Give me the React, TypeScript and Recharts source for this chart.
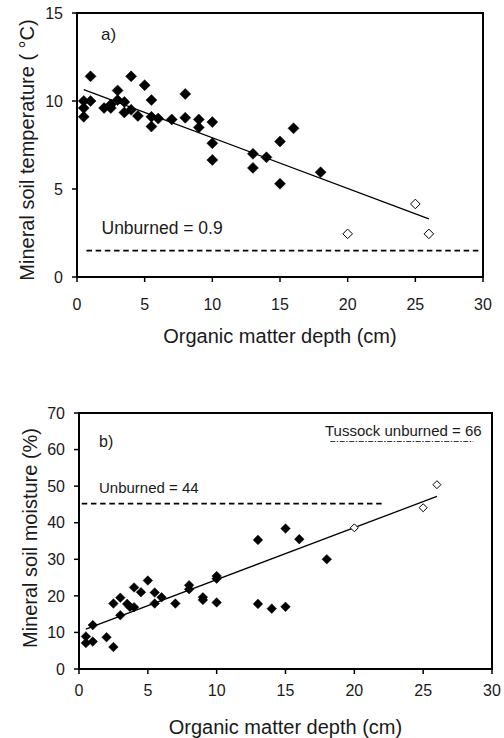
import React from "react";
import {
  ScatterChart,
  Scatter,
  XAxis,
  YAxis,
  ReferenceLine,
  ReferenceArea,
  Label,
} from "recharts";

const FONT = '"Liberation Sans", Arial, Helvetica, sans-serif';
const INK = "#1a1a1a";

// panel a) – mineral soil temperature vs organic matter depth
const depthA = [0.5, 0.5, 0.5, 1, 1, 2, 2.5, 2.5, 3, 3, 3.5, 3.5, 4, 4, 4.5, 5, 5.5, 5.5, 5.5, 6, 7, 8, 8, 9, 9, 10, 10, 10, 13, 13, 14, 15, 15, 16, 18];
const tempA = [10.0, 9.6, 9.1, 11.4, 10.0, 9.6, 9.6, 9.8, 10.6, 10.05, 9.95, 9.35, 11.4, 9.5, 9.15, 10.9, 10.05, 9.1, 8.55, 9.0, 8.95, 10.4, 9.05, 8.95, 8.5, 8.8, 7.6, 6.65, 7.0, 6.2, 6.8, 7.7, 5.3, 8.45, 5.95];
const openDepthA = [20, 25, 26];
const openTempA = [2.45, 4.15, 2.45];
const fitA = [{ x: 0.5, y: 10.65 }, { x: 26, y: 3.3 }];
const unburnedA = 1.5;

// panel b) – mineral soil moisture vs organic matter depth
const depthB = [0.5, 0.5, 1, 1, 2, 2.5, 2.5, 3, 3, 3.5, 3.7, 4, 4, 4.5, 5, 5.5, 5.5, 6, 7, 8, 8, 9, 9, 10, 10, 10, 13, 13, 14, 15, 15, 16, 18];
const moistB = [8.9, 7.1, 12, 7.5, 8.7, 6.0, 17.9, 19.5, 14.7, 17.8, 17.0, 22.3, 16.9, 21, 24.2, 20.9, 17.9, 19.6, 17.9, 22.9, 21.8, 19.6, 18.9, 25.4, 24.7, 18.2, 35.3, 17.8, 16.5, 38.4, 17.0, 35.5, 30.0];
const openDepthB = [20, 25, 26];
const openMoistB = [38.6, 44.1, 50.4];
const fitB = [{ x: 0.5, y: 10.9 }, { x: 26, y: 47.2 }];
const unburnedB = 45.2;
const tussockB = 62.2;

const xTicks = [0, 5, 10, 15, 20, 25, 30];
const yTicksA = [0, 5, 10, 15];
const yTicksB = [0, 10, 20, 30, 40, 50, 60, 70];

const pts = (xs: number[], ys: number[]) => xs.map((x, i) => ({ x, y: ys[i] }));

const diamond = (r: number, open: boolean) => (props: any) => {
  const { cx, cy } = props;
  if (cx == null || cy == null) return <g />;
  return (
    <path
      d={`M${cx},${cy - r}L${cx + r},${cy}L${cx},${cy + r}L${cx - r},${cy}Z`}
      fill={open ? "#fff" : "#000"}
      stroke="#000"
      strokeWidth={open ? 1 : 0.5}
    />
  );
};

const tickStyle = { fill: INK, fontSize: 16, fontFamily: FONT };
const axisLine = { stroke: "#000", strokeWidth: 2 };
const tickLine = { stroke: "#000", strokeWidth: 1.5 };

const yTitle = (text: string, dx: number, dy: number) => (props: any) => {
  const vb = props.viewBox || {};
  const x = vb.x + dx;
  const y = vb.y + vb.height / 2 + dy;
  return (
    <text
      x={x}
      y={y}
      transform={`rotate(-90, ${x}, ${y})`}
      textAnchor="middle"
      dominantBaseline="central"
      fontSize={20}
      fontFamily={FONT}
      fill={INK}
    >
      {text}
    </text>
  );
};

const xTitleStyle = { fontSize: 20, fontFamily: FONT, fill: INK };

function TemperaturePanel() {
  return (
    <ScatterChart width={504} height={360} margin={{ top: 13, right: 21, bottom: 53, left: 0 }}>
      <XAxis
        type="number"
        dataKey="x"
        domain={[0, 30]}
        ticks={xTicks}
        height={30}
        tickSize={5}
        tickMargin={17}
        tick={tickStyle}
        axisLine={axisLine}
        tickLine={tickLine}
      >
        <Label value="Organic matter depth (cm)" position="bottom" offset={22} style={xTitleStyle} />
      </XAxis>
      <YAxis
        type="number"
        dataKey="y"
        domain={[0, 15]}
        ticks={yTicksA}
        width={77}
        tickSize={5}
        tickMargin={9}
        tick={tickStyle}
        axisLine={axisLine}
        tickLine={tickLine}
      >
        <Label content={yTitle("Mineral soil temperature ( \u00B0C)", 27, 5)} />
      </YAxis>
      <ReferenceArea x1={0} x2={30} y1={0} y2={15} fill="none" stroke="#000" strokeWidth={2} />
      <ReferenceLine
        segment={[{ x: 0.7, y: unburnedA }, { x: 29.8, y: unburnedA }]}
        stroke="#000"
        strokeWidth={1.7}
        strokeDasharray="5.5 3.7"
      />
      <ReferenceLine segment={fitA} stroke="#000" strokeWidth={1.3} />
      <Scatter data={pts(depthA, tempA)} shape={diamond(5.5, false)} isAnimationActive={false} />
      <Scatter data={pts(openDepthA, openTempA)} shape={diamond(4.8, true)} isAnimationActive={false} />
      <text x={101} y={40} fontSize={17} fontFamily={FONT} fill={INK}>a)</text>
      <text x={101.5} y={234} fontSize={17.5} fontFamily={FONT} fill={INK}>Unburned = 0.9</text>
    </ScatterChart>
  );
}

function MoisturePanel() {
  return (
    <ScatterChart width={504} height={368} margin={{ top: 43, right: 12, bottom: 39, left: 0 }}>
      <XAxis
        type="number"
        dataKey="x"
        domain={[0, 30]}
        ticks={xTicks}
        height={30}
        tickSize={5}
        tickMargin={11}
        tick={tickStyle}
        axisLine={axisLine}
        tickLine={tickLine}
      >
        <Label value="Organic matter depth (cm)" position="bottom" offset={21} style={xTitleStyle} />
      </XAxis>
      <YAxis
        type="number"
        dataKey="y"
        domain={[0, 70]}
        ticks={yTicksB}
        width={79}
        tickSize={5}
        tickMargin={9}
        tick={tickStyle}
        axisLine={axisLine}
        tickLine={tickLine}
      >
        <Label content={yTitle("Mineral soil moisture (%)", 30, -3)} />
      </YAxis>
      <ReferenceArea x1={0} x2={30} y1={0} y2={70} fill="none" stroke="#000" strokeWidth={2} />
      <ReferenceLine
        segment={[{ x: 0.2, y: unburnedB }, { x: 22, y: unburnedB }]}
        stroke="#000"
        strokeWidth={1.7}
        strokeDasharray="5.5 3.7"
      />
      <ReferenceLine
        segment={[{ x: 18.25, y: tussockB }, { x: 28.65, y: tussockB }]}
        stroke="#000"
        strokeWidth={0.8}
        strokeDasharray="5 1.5 1.5 1.5"
      />
      <ReferenceLine segment={fitB} stroke="#000" strokeWidth={1.3} />
      <Scatter data={pts(depthB, moistB)} shape={diamond(4.8, false)} isAnimationActive={false} />
      <Scatter data={pts(openDepthB, openMoistB)} shape={diamond(4, true)} isAnimationActive={false} />
      <text x={99} y={77} fontSize={16} fontFamily={FONT} fill={INK}>b)</text>
      <text x={99} y={123} fontSize={15} fontFamily={FONT} fill={INK}>Unburned = 44</text>
      <text x={325} y={65.5} fontSize={15} fontFamily={FONT} fill={INK}>Tussock unburned = 66</text>
    </ScatterChart>
  );
}

export default function App() {
  return (
    <div style={{ position: "absolute", left: 0, top: 0, width: 504, height: 738, background: "#fff" }}>
      <div style={{ position: "absolute", left: 0, top: 0 }}>
        <TemperaturePanel />
      </div>
      <div style={{ position: "absolute", left: 0, top: 370 }}>
        <MoisturePanel />
      </div>
    </div>
  );
}
